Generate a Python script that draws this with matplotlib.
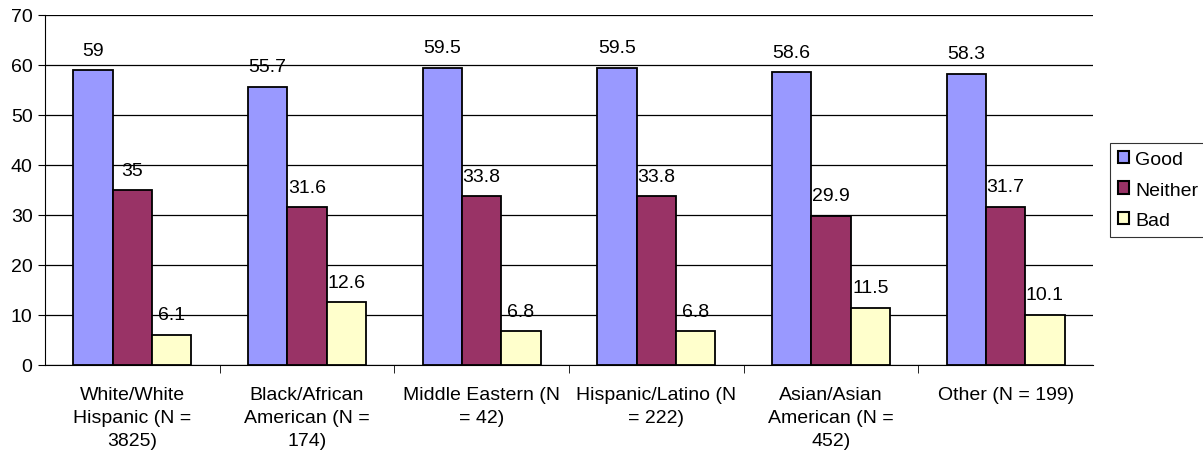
import matplotlib.pyplot as plt
import numpy as np

plt.rcParams['font.family'] = ['Liberation Sans', 'DejaVu Sans']

categories = ['White/White\nHispanic (N =\n3825)', 'Black/African\nAmerican (N =\n174)',
              'Middle Eastern (N\n= 42)', 'Hispanic/Latino (N\n= 222)',
              'Asian/Asian\nAmerican (N =\n452)', 'Other (N = 199)']
good = [59, 55.7, 59.5, 59.5, 58.6, 58.3]
neither = [35, 31.6, 33.8, 33.8, 29.9, 31.7]
bad = [6.1, 12.6, 6.8, 6.8, 11.5, 10.1]
good_lbl = ['59', '55.7', '59.5', '59.5', '58.6', '58.3']
neither_lbl = ['35', '31.6', '33.8', '33.8', '29.9', '31.7']
bad_lbl = ['6.1', '12.6', '6.8', '6.8', '11.5', '10.1']

fs = 14

fig = plt.figure(figsize=(12.03, 4.56), dpi=100)
ax = fig.add_axes([45 / 1203, 1 - 366 / 456, (1093 - 45) / 1203, (366 - 16) / 456])

x = np.arange(len(categories))
w = 0.225
series = [(good, good_lbl, '#9999FF', 'Good'),
          (neither, neither_lbl, '#993366', 'Neither'),
          (bad, bad_lbl, '#FFFFCC', 'Bad')]
for i, (vals, lbls, col, name) in enumerate(series):
    pos = x + (i - 1) * w
    ax.bar(pos, vals, w, color=col, edgecolor='black', linewidth=1.3, label=name, zorder=3)
    for p, v, t in zip(pos, vals, lbls):
        ax.annotate(t, (p, v), xytext=(0, 8), textcoords='offset points',
                    ha='center', va='bottom', fontsize=fs)

ax.set_xlim(-0.5, len(categories) - 0.5)
ax.set_ylim(0, 70)
ax.set_yticks(range(0, 71, 10))
ax.yaxis.grid(True, color='black', linewidth=0.9, zorder=0)
ax.set_axisbelow(True)
ax.spines['top'].set_visible(False)
ax.spines['right'].set_visible(False)
ax.tick_params(axis='y', direction='out', length=5, labelsize=fs, pad=4)

ax.set_xticks(x)
ax.set_xticklabels(categories, fontsize=fs, linespacing=1.45)
ax.tick_params(axis='x', length=0, pad=15)
ax.set_xticks(np.arange(0.5, len(categories) - 0.5, 1), minor=True)
ax.tick_params(axis='x', which='minor', direction='out', length=6)

leg = ax.legend(loc='center left', bbox_to_anchor=(1065 / 1048, 0.5), fontsize=fs,
                frameon=True, fancybox=False, edgecolor='black', handlelength=0.6,
                handleheight=0.6, handletextpad=0.3, borderpad=0.4, labelspacing=0.7,
                borderaxespad=0)
leg.get_frame().set_linewidth(0.8)
for h in leg.legend_handles:
    h.set_linewidth(1.5)

fig.savefig('out.png', dpi=100)
